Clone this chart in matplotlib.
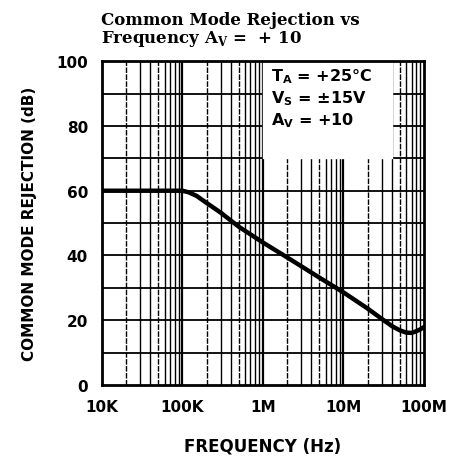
import matplotlib
matplotlib.use("Agg")
import matplotlib.pyplot as plt

# ── data ──
freq_hz = [1e4, 3e4, 1e5, 1.2e5, 1.5e5, 2e5, 3e5, 5e5, 1e6, 2e6, 5e6, 1e7,
           2e7, 3e7, 4e7, 5e7, 6e7, 7e7, 8e7, 9e7, 1e8]
cmr_db = [60, 60, 60, 59.5, 58.4, 56.2, 53.2, 48.9, 44.0, 39.4, 33.2, 28.6,
          23.6, 20.4, 18.2, 16.9, 16.2, 16.1, 16.6, 17.2, 17.9]

x_ticks = [1e4, 1e5, 1e6, 1e7, 1e8]
x_tick_labels = ["10K", "100K", "1M", "10M", "100M"]
y_ticks = [0, 20, 40, 60, 80, 100]

conditions = r"T$_\mathregular{A}$ = +25°C" "\n" \
             r"V$_\mathregular{S}$ = ±15V" "\n" \
             r"A$_\mathregular{V}$ = +10"

fig = plt.figure(figsize=(4.53, 4.64), dpi=100)
ax = fig.add_axes([0.225, 0.168, 0.711, 0.698])
ax.set_xscale("log")
ax.set_xlim(1e4, 1e8)
ax.set_ylim(0, 100)

# ── grid: horizontal every 10 dB, vertical at 1..9 per decade ──
for y in range(10, 100, 10):
    ax.axhline(y, color="black", linewidth=1.3, zorder=1)
for decade in (1e4, 1e5, 1e6, 1e7):
    for m in range(2, 10):
        style = (0, (4, 1)) if m in (2, 5) else "-"
        ax.axvline(decade * m, color="black", linewidth=1.0,
                   linestyle=style, zorder=1)
for decade in x_ticks[1:-1]:
    ax.axvline(decade, color="black", linewidth=1.6, zorder=1)

# ── white conditions box ──
ax.fill_between([1e6, 4e7], 70, 100, color="white", zorder=2)
ax.text(1.25e6, 98.5, conditions, fontsize=11.5, fontweight="bold",
        family="DejaVu Sans", va="top", ha="left", linespacing=1.25, zorder=3)

ax.plot(freq_hz, cmr_db, color="black", linewidth=3.2,
        solid_capstyle="round", zorder=4)

ax.set_xticks(x_ticks)
ax.set_xticklabels(x_tick_labels)
ax.xaxis.set_minor_locator(matplotlib.ticker.NullLocator())
ax.set_yticks(y_ticks)
ax.tick_params(length=0, pad=10, labelsize=11)
for lbl in ax.get_xticklabels() + ax.get_yticklabels():
    lbl.set_fontweight("bold")
for spine in ax.spines.values():
    spine.set_linewidth(2.0)

ax.set_xlabel("FREQUENCY (Hz)", fontsize=12, fontweight="bold", labelpad=16)
ax.set_ylabel("COMMON MODE REJECTION (dB)", fontsize=11, fontweight="bold",
              labelpad=14)

fig.text(0.222, 0.975, "Common Mode Rejection vs\n"
         r"Frequency A$_\mathregular{V}$ =  + 10",
         fontsize=12, fontweight="bold", family="DejaVu Serif",
         va="top", ha="left", linespacing=1.0)

fig.savefig("out.png", dpi=100)
